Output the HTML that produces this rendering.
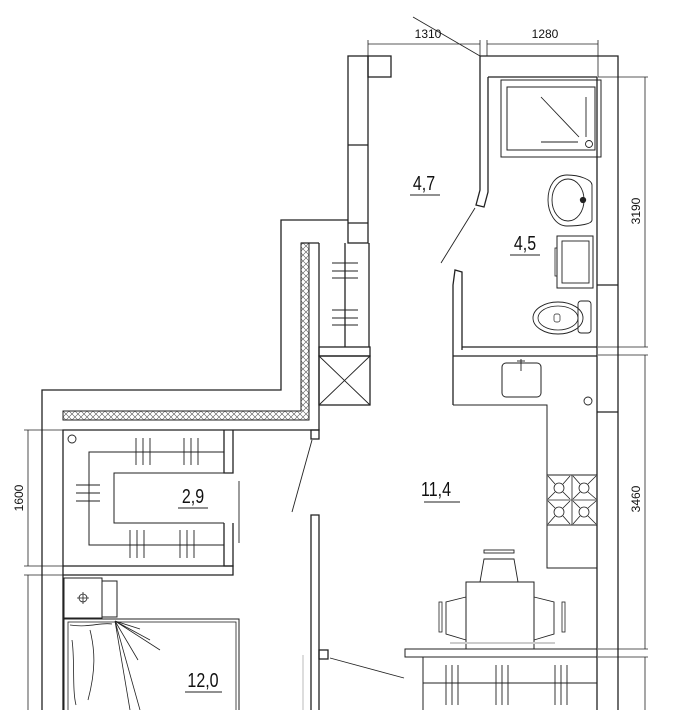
<!DOCTYPE html>
<html><head><meta charset="utf-8"><style>
html,body{margin:0;padding:0;background:#fff;width:678px;height:710px;overflow:hidden}
svg{display:block}
text{font-family:"Liberation Sans",sans-serif;fill:#111}
</style></head><body>
<svg width="678" height="710" viewBox="0 0 678 710" xmlns="http://www.w3.org/2000/svg">
<defs>
<pattern id="hx" width="6" height="6" patternUnits="userSpaceOnUse">
<path d="M0 0L6 6M6 0L0 6" stroke="#555" stroke-width="0.6"/>
</pattern>
</defs>
<g fill="none" stroke="#222" stroke-width="1.3">
<g stroke-width="0.8">
<line x1="368" y1="44" x2="480" y2="44"/><line x1="487" y1="44" x2="598" y2="44"/>
<line x1="368" y1="40" x2="368" y2="60"/><line x1="480" y1="40" x2="480" y2="56"/>
<line x1="487" y1="40" x2="487" y2="56"/><line x1="598" y1="40" x2="598" y2="77"/>
<line x1="413" y1="17" x2="480" y2="56"/>
<line x1="598" y1="77" x2="648" y2="77"/>
<line x1="645" y1="77" x2="645" y2="347"/>
<line x1="598" y1="347" x2="648" y2="347"/>
<line x1="598" y1="355" x2="648" y2="355"/>
<line x1="645" y1="355" x2="645" y2="649"/>
<line x1="598" y1="649" x2="648" y2="649"/>
<line x1="598" y1="657" x2="648" y2="657"/>
<line x1="645" y1="657" x2="645" y2="710"/>
<line x1="24" y1="430" x2="63" y2="430"/>
<line x1="28" y1="430" x2="28" y2="566"/>
<line x1="24" y1="566" x2="63" y2="566"/>
<line x1="24" y1="575" x2="63" y2="575"/>
<line x1="28" y1="575" x2="28" y2="710"/>
</g>
<rect x="348" y="56" width="20" height="187"/>
<line x1="348" y1="145" x2="368" y2="145"/><line x1="348" y1="223" x2="368" y2="223"/>
<rect x="368" y="56" width="23" height="21"/>
<path d="M348 220H281V390H42V710"/>
<path d="M319 243V430H63V710"/>
<path d="M301 243H309V420H63V411H301Z" fill="url(#hx)" stroke-width="1"/>
<line x1="301" y1="243" x2="319" y2="243"/>
<line x1="369" y1="243" x2="369" y2="347"/>
<line x1="345" y1="243" x2="345" y2="347"/>
<g stroke-width="0.9">
<line x1="332" y1="263" x2="358" y2="263"/><line x1="332" y1="271" x2="358" y2="271"/><line x1="332" y1="278" x2="358" y2="278"/>
<line x1="332" y1="310" x2="358" y2="310"/><line x1="332" y1="318" x2="358" y2="318"/><line x1="332" y1="325" x2="358" y2="325"/>
</g>
<rect x="319" y="347" width="51" height="9"/>
<rect x="319" y="356" width="51" height="49"/>
<path d="M319 356L370 405M370 356L319 405" stroke-width="0.9"/>
<rect x="311" y="430" width="8" height="9"/>
<line x1="312" y1="440" x2="292" y2="512" stroke-width="0.9"/>
<path d="M480 56H618V710"/>
<line x1="488" y1="77" x2="597" y2="77"/>
<path d="M480 56V190L476 205L484 207L488 192V77"/>
<line x1="475" y1="208" x2="441" y2="263" stroke-width="0.9"/>
<path d="M462 350V272L455 270L453 285V405" />
<path d="M462 347H597"/>
<path d="M453 356H597"/>
<line x1="597" y1="77" x2="597" y2="710"/>
<line x1="597" y1="285" x2="618" y2="285"/>
<line x1="597" y1="412" x2="618" y2="412"/>
<rect x="501" y="80" width="100" height="77" stroke-width="1"/>
<rect x="507" y="87" width="88" height="63" stroke-width="1"/>
<line x1="541" y1="97" x2="579" y2="137" stroke-width="0.9"/>
<line x1="586" y1="97" x2="586" y2="137" stroke-width="0.9"/>
<line x1="541" y1="142" x2="578" y2="142" stroke-width="0.9"/>
<circle cx="589" cy="144" r="3.5" stroke-width="0.9"/>
<path d="M567 175C580 175 592 180 592 185V220C592 224 580 226 567 226C555 226 548 212 548 200C548 186 555 175 567 175Z" stroke-width="0.9"/>
<ellipse cx="568" cy="200" rx="16" ry="21" stroke-width="0.9"/>
<circle cx="583" cy="200" r="2.5" fill="#222"/>
<rect x="557" y="236" width="36" height="52" stroke-width="1"/>
<rect x="562" y="241" width="27" height="42" stroke-width="0.9"/>
<rect x="555" y="248" width="2" height="28" stroke-width="0.8"/>
<ellipse cx="558" cy="318" rx="25" ry="16" stroke-width="0.9"/>
<ellipse cx="558" cy="318" rx="20" ry="12" stroke-width="0.8"/>
<rect x="578" y="301" width="13" height="32" rx="3" stroke-width="0.9"/>
<rect x="554" y="314" width="6" height="8" rx="2" stroke-width="0.7"/>
<path d="M453 405H547V568H597" stroke-width="1"/>
<rect x="502" y="363" width="39" height="34" rx="4" stroke-width="1"/>
<line x1="521" y1="359" x2="521" y2="371" stroke-width="0.9"/><line x1="517" y1="361" x2="525" y2="361" stroke-width="0.9"/>
<circle cx="588" cy="401" r="4" stroke-width="0.9"/>
<rect x="547" y="475" width="50" height="50" stroke-width="1"/>
<line x1="572" y1="475" x2="572" y2="525" stroke-width="0.8"/><line x1="547" y1="500" x2="597" y2="500" stroke-width="0.8"/>
<g stroke-width="0.8">
<circle cx="559" cy="488" r="5"/><circle cx="584" cy="488" r="5"/><circle cx="559" cy="512" r="5"/><circle cx="584" cy="512" r="5"/>
<path d="M548 476L555 484M570 476L563 484M548 499L555 492M570 499L563 492"/>
<path d="M573 476L580 484M596 476L588 484M573 499L580 492M596 499L588 492"/>
<path d="M548 501L555 508M570 501L563 508M548 524L555 516M570 524L563 516"/>
<path d="M573 501L580 508M596 501L588 508M573 524L580 516M596 524L588 516"/>
</g>
<rect x="466" y="582" width="68" height="67" stroke-width="1"/>
<path d="M480 582L484 559H514L518 582" stroke-width="0.9"/>
<rect x="484" y="550" width="30" height="3" stroke-width="0.9"/>
<path d="M466 597L446 602V634L466 640M534 597L554 602V634L534 640" stroke-width="0.9"/>
<rect x="439" y="602" width="3" height="30" stroke-width="0.8"/>
<rect x="562" y="602" width="3" height="30" stroke-width="0.8"/>
<line x1="450" y1="643" x2="555" y2="643" stroke="#ccc" stroke-width="2"/>
<rect x="405" y="649" width="192" height="8" stroke-width="1"/>
<path d="M423 657V710M423 683H597" stroke-width="1"/>
<g stroke-width="0.9">
<path d="M446 665V705M452 665V705M458 665V705"/>
<path d="M496 665V705M502 665V705M508 665V705"/>
<path d="M555 665V705M561 665V705M567 665V705"/>
</g>
<path d="M311 710V515H319V710"/>
<rect x="319" y="650" width="9" height="9"/>
<line x1="330" y1="658" x2="404" y2="678" stroke-width="0.9"/>
<line x1="303" y1="655" x2="303" y2="710" stroke="#bbb" stroke-width="1"/>
<circle cx="72" cy="439" r="4" stroke-width="0.9"/>
<path d="M224 430V473H233V430" />
<path d="M224 523V566H233V523"/>
<path d="M224 452H89V545H224" stroke-width="1"/>
<path d="M224 473H114V523H224" stroke-width="1"/>
<path d="M63 566H233V575H63"/>
<line x1="239" y1="481" x2="239" y2="543" stroke-width="0.9"/>
<g stroke-width="0.9">
<path d="M136 438V465M143 438V465M150 438V465M184 438V465M191 438V465M198 438V465"/>
<path d="M76 485H100M76 493H100M76 501H100"/>
<path d="M130 530V558M137 530V558M144 530V558M180 530V558M187 530V558M194 530V558"/>
</g>
<rect x="64" y="578" width="38" height="40" stroke-width="1"/>
<rect x="102" y="581" width="15" height="36" stroke-width="1"/>
<circle cx="83" cy="598" r="4" stroke-width="0.8"/><path d="M77 598H89M83 592V604" stroke-width="0.8"/>
<rect x="64" y="619" width="175" height="95" stroke-width="1"/>
<rect x="68" y="622" width="168" height="92" stroke-width="0.8"/>
<g stroke-width="0.8">
<path d="M115 621L130 710M115 621L140 710M115 621L138 660M115 621L160 650M115 621L150 640M115 621L140 629"/>
<path d="M90 630C95 650 96 670 88 700M72 640C75 660 72 690 76 705"/>
<path d="M70 625C90 628 100 622 112 624"/>
</g>
</g>
<g font-size="12">
<text x="428" y="38" text-anchor="middle">1310</text>
<text x="545" y="38" text-anchor="middle">1280</text>
<text transform="translate(640,211) rotate(-90)" text-anchor="middle">3190</text>
<text transform="translate(640,499) rotate(-90)" text-anchor="middle">3460</text>
<text transform="translate(23,498) rotate(-90)" text-anchor="middle">1600</text>
</g>
<g font-size="20">
<text transform="translate(424,190) scale(0.8,1)" text-anchor="middle">4,7</text>
<text transform="translate(525,250) scale(0.8,1)" text-anchor="middle">4,5</text>
<text transform="translate(193,503) scale(0.8,1)" text-anchor="middle">2,9</text>
<text transform="translate(436,496) scale(0.8,1)" text-anchor="middle">11,4</text>
<text transform="translate(203,687) scale(0.8,1)" text-anchor="middle">12,0</text>
</g>
<g stroke="#222" stroke-width="1">
<line x1="410" y1="195" x2="440" y2="195"/>
<line x1="510" y1="255" x2="540" y2="255"/>
<line x1="178" y1="508" x2="208" y2="508"/>
<line x1="424" y1="502" x2="460" y2="502"/>
<line x1="185" y1="692" x2="222" y2="692"/>
</g>
</svg>
</body></html>
